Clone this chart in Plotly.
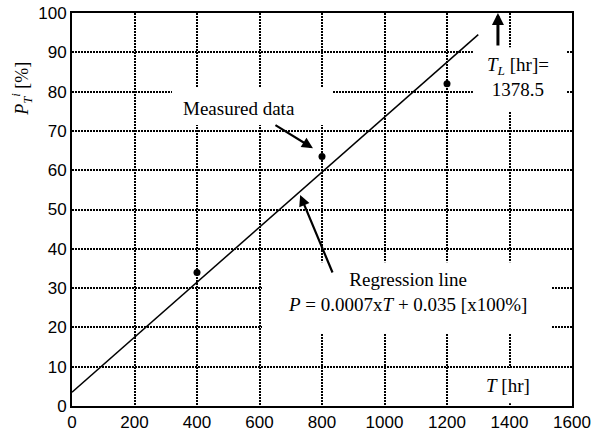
import plotly.graph_objects as go

# Data
measured_T = [400, 800, 1200]
measured_P = [34, 63.5, 82]
reg_T = [0, 1300]
slope = 0.0007
intercept = 0.035
reg_P = [(slope * t + intercept) * 100 for t in reg_T]
x_ticks = [0, 200, 400, 600, 800, 1000, 1200, 1400, 1600]
y_ticks = [0, 10, 20, 30, 40, 50, 60, 70, 80, 90, 100]

serif = "Liberation Serif, Times New Roman, serif"
sans = "Liberation Sans, Arial, Helvetica, sans-serif"

fig = go.Figure()
fig.add_trace(go.Scatter(x=reg_T, y=reg_P, mode="lines",
                         line=dict(color="black", width=1.5), showlegend=False))
fig.add_trace(go.Scatter(x=measured_T, y=measured_P, mode="markers",
                         marker=dict(color="black", size=7), showlegend=False))

# white boxes behind labels (cover gridlines)
for x0, x1, y0, y1 in [(320, 832, 71.5, 81.0), (608, 1536, 18.6, 36.6),
                       (1283, 1584, 74.8, 91.3), (1322, 1482, 0.7, 9.7)]:
    fig.add_shape(type="rect", x0=x0, x1=x1, y0=y0, y1=y1, xref="x", yref="y",
                  fillcolor="white", line=dict(width=0), layer="between")

fig.add_annotation(x=534, y=75.8, text="Measured data", showarrow=False,
                   font=dict(family=serif, size=19, color="black"))
fig.add_annotation(x=771, y=65.6, ax=-39, ay=-24, text="", showarrow=True,
                   arrowhead=2, arrowsize=1, arrowwidth=2.2, arrowcolor="black")
fig.add_annotation(x=1072, y=29,
                   text="Regression line<br><i>P</i> = 0.0007x<i>T</i> + 0.035 [x100%]",
                   showarrow=False, font=dict(family=serif, size=19, color="black"))
fig.add_annotation(x=730, y=53.7, ax=33, ay=79, text="", showarrow=True,
                   arrowhead=2, arrowsize=1, arrowwidth=2.2, arrowcolor="black")
fig.add_annotation(x=1427, y=83.7, text="<i>T<sub>L</sub></i> [hr]=<br>1378.5",
                   showarrow=False, font=dict(family=serif, size=19, color="black"))
fig.add_annotation(x=1363, y=100, ax=0, ay=34, text="", showarrow=True,
                   arrowhead=2, arrowsize=0.8, arrowwidth=3, arrowcolor="black")
fig.add_annotation(x=1395, y=5.1, text="<i>T</i> [hr]", showarrow=False,
                   font=dict(family=serif, size=19, color="black"))
# y-axis title placed high, as in the reference
fig.add_annotation(xref="paper", yref="paper", x=-0.13, y=0.88, textangle=-90,
                   text="<i>P</i><sub><i>T</i></sub><sup><i>i</i></sup> [%]",
                   showarrow=False, font=dict(family=serif, size=18, color="black"))

axis_common = dict(showline=True, linewidth=2, linecolor="black", mirror=True,
                   showgrid=True, gridcolor="black", gridwidth=2, griddash="2px,1px",
                   ticks="", zeroline=False, automargin=False,
                   tickfont=dict(family=sans, size=17, color="black"))
fig.update_xaxes(range=[0, 1600], tickvals=x_ticks, ticklabelstandoff=0, **axis_common)
fig.update_yaxes(range=[0, 100], tickvals=y_ticks, ticklabelstandoff=0, **axis_common)
fig.update_layout(width=608, height=434, margin=dict(l=72, r=36, t=13, b=28),
                  paper_bgcolor="white", plot_bgcolor="white")
fig.write_html("out.html", config={"displayModeBar": False},
               post_script="document.body.style.margin='0';document.body.style.overflow='hidden';")
